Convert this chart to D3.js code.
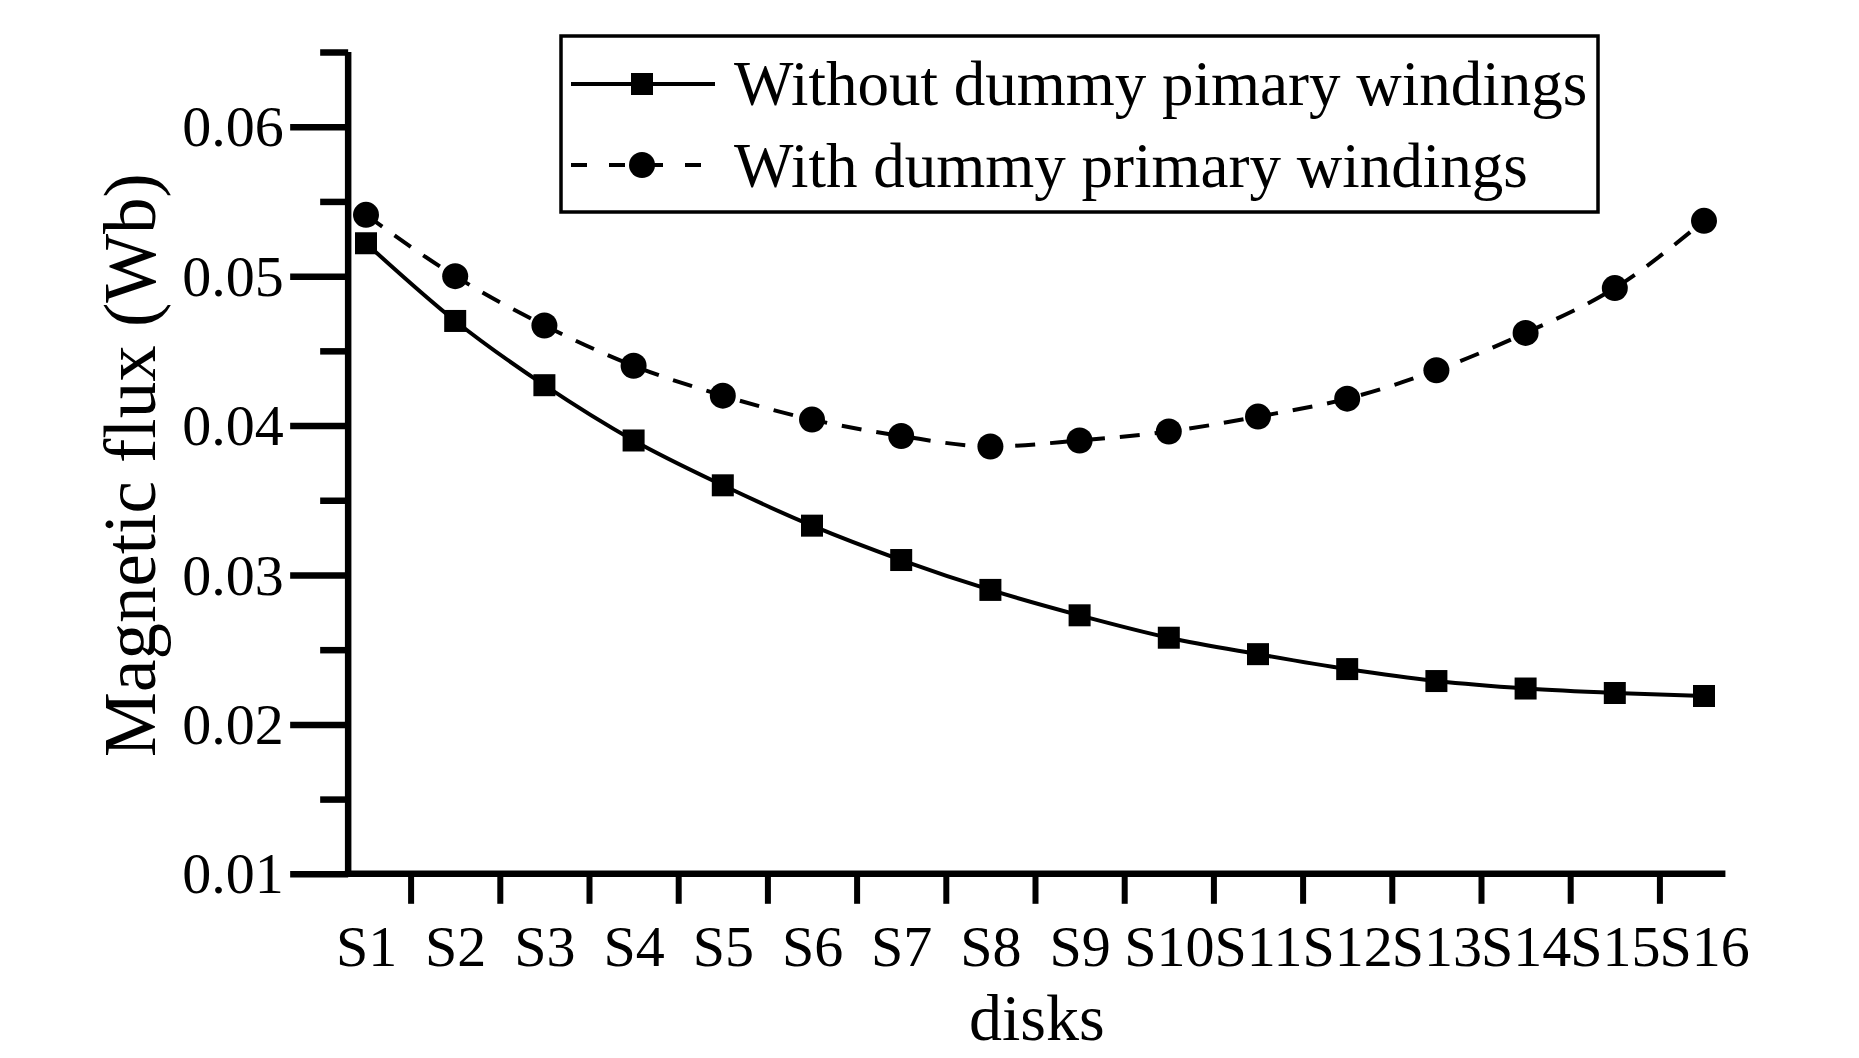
<!DOCTYPE html>
<html>
<head>
<meta charset="utf-8">
<script src="https://cdn.jsdelivr.net/npm/d3@7"></script>
<style>
  html, body { margin: 0; padding: 0; background: #ffffff; }
  svg { display: block; }
  text { font-family: "Liberation Serif", "Times New Roman", serif; fill: #000; }
</style>
</head>
<body>
<svg id="chart" width="1859" height="1058"></svg>
<script>
// ---- data ----
const categories = ["S1","S2","S3","S4","S5","S6","S7","S8","S9","S10","S11","S12","S13","S14","S15","S16"];
const withoutDummy = [0.0522,0.0470,0.0427,0.0390,0.0360,0.0333,0.0310,0.0290,0.0273,0.0258,0.0247,0.0237,0.0229,0.0224,0.0221,0.0219];
const withDummy    = [0.0541,0.0500,0.0467,0.0440,0.0420,0.0404,0.0393,0.0386,0.0390,0.0396,0.0406,0.0418,0.0437,0.0462,0.0492,0.0537];
const yMajorTicks = [0.01,0.02,0.03,0.04,0.05,0.06];
const yMinorTicks = [0.015,0.025,0.035,0.045,0.055,0.065];
const seriesNames = ["Without dummy pimary windings","With dummy primary windings"];
const xTitle = "disks";
const yTitle = "Magnetic flux (Wb)";

// ---- layout ----
const svg = d3.select("#chart");
const x = d3.scaleLinear().domain([0, 15]).range([366, 1704]);
const y = d3.scaleLinear().domain([0.01, 0.065]).range([873.8, 52]);
const axisX0 = x(-0.2), axisX1 = x(15.24);
const axisY = y(0.01);
const AXW = 6.5;
const FONT = 58;

// y axis (major with labels)
const gy = svg.append("g").attr("transform", `translate(${axisX0},0)`);
gy.call(d3.axisLeft(y).tickValues(yMajorTicks).tickSize(58).tickSizeOuter(0)
  .tickPadding(6.5).tickFormat(d3.format(".2f")));
gy.select(".domain").remove();
gy.selectAll(".tick line").attr("stroke", "#000").attr("stroke-width", AXW);
gy.selectAll(".tick text").attr("font-size", FONT).attr("font-family", null).attr("dy", "0.33em");
// y minor ticks
const gym = svg.append("g").attr("transform", `translate(${axisX0},0)`);
gym.call(d3.axisLeft(y).tickValues(yMinorTicks).tickSize(28).tickSizeOuter(0).tickFormat(""));
gym.select(".domain").remove();
gym.selectAll(".tick line").attr("stroke", "#000").attr("stroke-width", AXW);
// y axis line
svg.append("line").attr("x1", axisX0).attr("x2", axisX0)
  .attr("y1", y(0.065)).attr("y2", axisY + AXW/2)
  .attr("stroke", "#000").attr("stroke-width", AXW);

// x axis ticks between categories
const gx = svg.append("g").attr("transform", `translate(0,${axisY})`);
gx.call(d3.axisBottom(x).tickValues(d3.range(0.5, 15, 1)).tickSize(30).tickSizeOuter(0).tickFormat(""));
gx.select(".domain").remove();
gx.selectAll(".tick line").attr("stroke", "#000").attr("stroke-width", 6);
// x labels
const gxl = svg.append("g").attr("transform", `translate(0,${axisY})`);
gxl.call(d3.axisBottom(x).tickValues(d3.range(0, 16)).tickSize(0).tickPadding(51)
  .tickFormat(i => categories[i]));
gxl.select(".domain").remove();
gxl.selectAll(".tick text").attr("font-size", FONT).attr("font-family", null);
// x axis line
svg.append("line").attr("x1", axisX0 - AXW/2).attr("x2", axisX1)
  .attr("y1", axisY).attr("y2", axisY)
  .attr("stroke", "#000").attr("stroke-width", AXW);

// titles
svg.append("text").attr("x", (axisX0 + axisX1) / 2).attr("y", 1040)
  .attr("text-anchor", "middle").attr("font-size", 66).text(xTitle);
svg.append("text").attr("transform", `translate(155,465) rotate(-90)`)
  .attr("text-anchor", "middle").attr("font-size", 73).text(yTitle);

// lines
const line = d3.line().x((d, i) => x(i)).y(d => y(d)).curve(d3.curveMonotoneX);
svg.append("path").datum(withoutDummy).attr("d", line)
  .attr("fill", "none").attr("stroke", "#000").attr("stroke-width", 4);
svg.append("path").datum(withDummy).attr("d", line)
  .attr("fill", "none").attr("stroke", "#000").attr("stroke-width", 4)
  .attr("stroke-dasharray", "20,15");

// markers
const SQ = 22, CR = 13;
svg.append("g").selectAll("rect").data(withoutDummy).join("rect")
  .attr("x", (d, i) => x(i) - SQ/2).attr("y", d => y(d) - SQ/2)
  .attr("width", SQ).attr("height", SQ).attr("fill", "#000");
svg.append("g").selectAll("circle").data(withDummy).join("circle")
  .attr("cx", (d, i) => x(i)).attr("cy", d => y(d)).attr("r", CR).attr("fill", "#000");

// legend
const lg = svg.append("g");
lg.append("rect").attr("x", 561).attr("y", 36).attr("width", 1037).attr("height", 176)
  .attr("fill", "#fff").attr("stroke", "#000").attr("stroke-width", 3.5);
const rows = [84, 165];
lg.append("line").attr("x1", 571).attr("x2", 715).attr("y1", rows[0]).attr("y2", rows[0])
  .attr("stroke", "#000").attr("stroke-width", 4);
lg.append("rect").attr("x", 642 - SQ/2).attr("y", rows[0] - SQ/2).attr("width", SQ).attr("height", SQ).attr("fill", "#000");
lg.append("line").attr("x1", 571).attr("x2", 715).attr("y1", rows[1]).attr("y2", rows[1])
  .attr("stroke", "#000").attr("stroke-width", 4).attr("stroke-dasharray", "16,22");
lg.append("circle").attr("cx", 642).attr("cy", rows[1]).attr("r", CR).attr("fill", "#000");
lg.append("text").attr("x", 734).attr("y", 105).attr("font-size", 63).text(seriesNames[0]);
lg.append("text").attr("x", 734).attr("y", 187).attr("font-size", 63).text(seriesNames[1]);
</script>
</body>
</html>
